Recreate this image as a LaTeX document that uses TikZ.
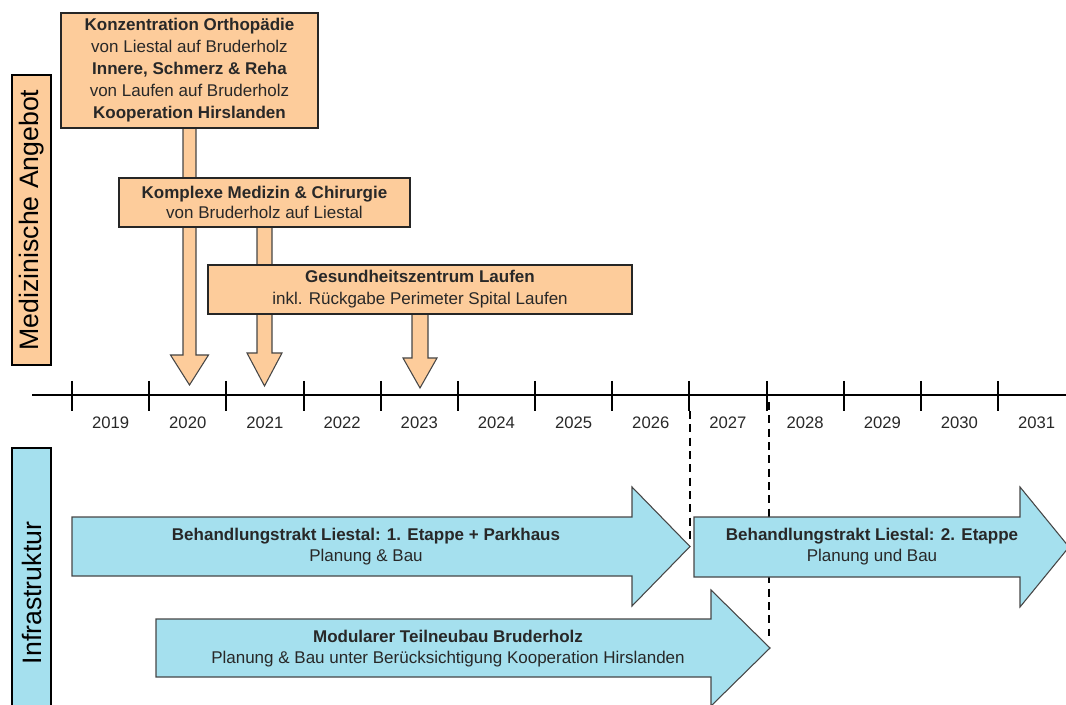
\documentclass[tikz,border=0pt]{standalone}
\usepackage{fontspec}
\setmainfont{Liberation Sans}
\definecolor{peach}{RGB}{253,204,155}
\definecolor{skyb}{RGB}{165,224,238}
\definecolor{edgegray}{RGB}{70,70,70}
\definecolor{txt}{RGB}{40,40,40}
\begin{document}
\begin{tikzpicture}[x=0.75pt,y=-0.75pt,
  box/.style={draw=black!85, line width=0.9pt, fill=peach, inner sep=0pt, align=center,
    text=txt, font=\fontsize{12.75}{16.5}\selectfont},
  darr/.style={draw=edgegray, line width=0.8pt, fill=peach},
  barr/.style={draw=edgegray, line width=0.8pt, fill=skyb},
  btext/.style={align=center, text=txt, inner sep=0pt, font=\fontsize{12.75}{15.75}\selectfont},
  sidebox/.style={draw=black, line width=1pt, rotate=90, inner sep=0pt,
    minimum width=217.5pt, minimum height=29.25pt, font=\fontsize{20}{24}\selectfont},
  axisline/.style={line width=1.5pt, black},
  dashline/.style={line width=1.5pt, black, dash pattern=on 6pt off 4pt},
  yearlbl/.style={text=txt, inner sep=0pt, font=\fontsize{12.5}{15}\selectfont}
]
\useasboundingbox (0,0) rectangle (1066,705);

% side labels
\node[sidebox, fill=peach] (med) at (31.5,220) {Medizinische Angebot};
\node[sidebox, fill=skyb] (infra) at (31.5,593) {Infrastruktur};

% timeline
\coordinate (tlA) at (32,395);
\coordinate (tlB) at (1066,395);
\draw[axisline] (tlA) -- (tlB);
\foreach \i in {0,...,12} {
  \draw[axisline] ({72+77.17*\i},381) -- ({72+77.17*\i},411);
}
\foreach \yr [count=\i from 0] in {2019,2020,2021,2022,2023,2024,2025,2026,2027,2028,2029,2030,2031} {
  \node[yearlbl] (y\yr) at ({72+77.17*(\i+0.5)},423) {\yr};
}

% medical offer boxes with down arrows
\draw[darr] (183,120) -- (183,355) -- (170.5,355) -- (189.5,385) -- (208.5,355) -- (196,355) -- (196,120) -- cycle;
\node[box, minimum width=192.75pt, minimum height=86.25pt] (b1) at (189.5,70.5)
  {\textbf{Konzentration Orthopädie}\\von Liestal auf Bruderholz\\\textbf{Innere, Schmerz \& Reha}\\von Laufen auf Bruderholz\\\textbf{Kooperation Hirslanden}};

\draw[darr] (257,220) -- (257,353) -- (247,353) -- (264.5,386) -- (282,353) -- (272,353) -- (272,220) -- cycle;
\node[box, minimum width=218.25pt, minimum height=36.75pt, font=\fontsize{12.75}{15}\selectfont] (b2) at (264.5,202.5)
  {\textbf{Komplexe Medizin \& Chirurgie}\\von Bruderholz auf Liestal};

\draw[darr] (412,305) -- (412,358) -- (403,358) -- (420,388) -- (437,358) -- (428,358) -- (428,305) -- cycle;
\node[box, minimum width=318pt, minimum height=36.75pt] (b3) at (420,289.5)
  {\textbf{Gesundheitszentrum Laufen}\\inkl. Rückgabe Perimeter Spital Laufen};

% dashed markers
\draw[dashline] (690,411) -- (690,540);
\draw[dashline] (769,402) -- (769,636);

% infrastructure arrows
\draw[barr] (72,517) -- (632,517) -- (632,487) -- (690,546.5) -- (632,606) -- (632,576) -- (72,576) -- cycle;
\node[btext] (i1) at (366,546.5) {\textbf{Behandlungstrakt Liestal: 1. Etappe + Parkhaus}\\Planung \& Bau};

\draw[barr] (694,517) -- (1020,517) -- (1020,487) -- (1069,547) -- (1020,607) -- (1020,577) -- (694,577) -- cycle;
\node[btext] (i2) at (872,546.5) {\textbf{Behandlungstrakt Liestal: 2. Etappe}\\Planung und Bau};

\draw[barr] (156,619) -- (711,619) -- (711,590) -- (770,648) -- (711,706) -- (711,677) -- (156,677) -- cycle;
\node[btext] (i3) at (448,649) {\textbf{Modularer Teilneubau Bruderholz}\\Planung \& Bau unter Berücksichtigung Kooperation Hirslanden};
\end{tikzpicture}
\end{document}
